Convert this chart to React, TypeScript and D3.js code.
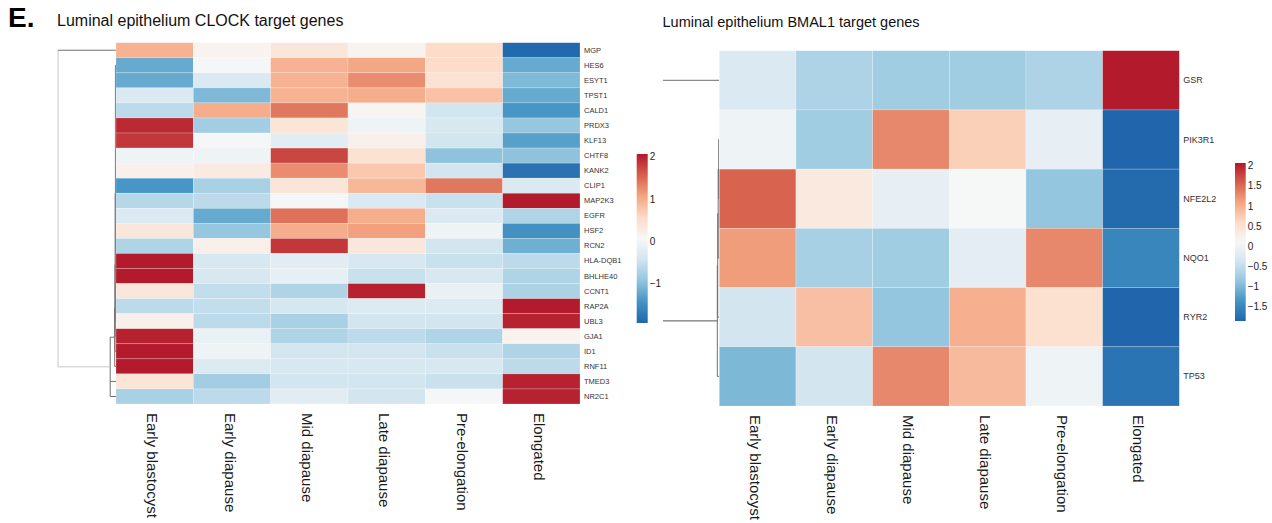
import React from "react";
import * as d3 from "d3";

// Developmental stages (columns, shared by both heatmaps)
const stages = [
  "Early blastocyst",
  "Early diapause",
  "Mid diapause",
  "Late diapause",
  "Pre-elongation",
  "Elongated",
];

// CLOCK target genes, row order as clustered
const clockGenes = [
  "MGP", "HES6", "ESYT1", "TPST1", "CALD1", "PRDX3", "KLF13", "CHTF8",
  "KANK2", "CLIP1", "MAP2K3", "EGFR", "HSF2", "RCN2", "HLA-DQB1", "BHLHE40",
  "CCNT1", "RAP2A", "UBL3", "GJA1", "ID1", "RNF11", "TMED3", "NR2C1",
];

// Row-scaled expression (z-scores) for CLOCK targets, one row per gene
const clockZ = [
  [0.95, 0.15, 0.35, 0.15, 0.55, -1.9],
  [-1.2, 0.05, 0.95, 1.05, 0.55, -1.2],
  [-1.2, -0.3, 0.95, 1.25, 0.45, -1.05],
  [-0.3, -1.05, 0.95, 1.0, 0.8, -1.2],
  [-0.6, 1.0, 1.4, 0.12, -0.4, -1.4],
  [1.95, -0.8, 0.4, -0.05, -0.35, -0.9],
  [1.85, 0.05, -0.2, 0.2, -0.4, -1.3],
  [-0.05, -0.05, 1.75, 0.45, -0.95, -0.95],
  [0.2, 0.3, 1.25, 0.75, -0.4, -1.8],
  [-1.4, -0.75, 0.4, 0.9, 1.4, -0.3],
  [-0.65, -0.6, 0.05, -0.3, -0.5, 2.05],
  [-0.3, -1.2, 1.45, 1.0, -0.3, -0.7],
  [0.35, -0.9, 1.0, 1.1, -0.05, -1.45],
  [-0.7, 0.2, 1.85, 0.35, -0.4, -1.15],
  [2.05, -0.35, -0.2, -0.35, -0.5, -0.6],
  [2.05, -0.35, -0.15, -0.5, -0.35, -0.7],
  [0.35, -0.55, -0.7, 2.0, -0.1, -0.72],
  [-0.6, -0.55, -0.38, -0.28, -0.28, 2.05],
  [0.2, -0.6, -0.75, -0.4, -0.4, 2.0],
  [2.0, -0.1, -0.7, -0.6, -0.7, 0.15],
  [2.05, -0.05, -0.4, -0.4, -0.5, -0.7],
  [2.05, -0.28, -0.35, -0.35, -0.35, -0.6],
  [0.4, -0.8, -0.4, -0.4, -0.5, 2.0],
  [-0.75, -0.6, -0.2, -0.4, 0.05, 2.0],
];

// BMAL1 target genes
const bmalGenes = ["GSR", "PIK3R1", "NFE2L2", "NQO1", "RYR2", "TP53"];

const bmalZ = [
  [-0.25, -0.65, -0.75, -0.75, -0.65, 2.05],
  [0.0, -0.75, 1.3, 0.7, -0.1, -1.85],
  [1.55, 0.35, -0.1, 0.1, -0.85, -1.8],
  [1.15, -0.7, -0.75, -0.15, 1.3, -1.5],
  [-0.35, 0.85, -0.85, 1.0, 0.5, -1.85],
  [-1.0, -0.35, 1.3, 0.9, 0.0, -1.7],
];

// Colour-key ranges and tick labels
const clockRange = [-1.93, 2.07];
const clockTicks = [2, 1, 0, -1];
const bmalRange = [-1.85, 2.07];
const bmalTicks = [2, 1.5, 1, 0.5, 0, -0.5, -1, -1.5];

// Row dendrograms: leaves are row indices, nodes carry a merge height (0..1)
type TreeNode = number | { h: number; c: TreeNode[] };

const clockTree: TreeNode = {
  h: 1,
  c: [
    0,
    {
      h: 0.1,
      c: [
        {
          h: 0.022,
          c: [
            {
              h: 0.018,
              c: [
                {
                  h: 0.014,
                  c: [
                    { h: 0.01, c: [1, 2, 3, 4, 5, 6, 7, 8, 9, 10, 11, 12, 13, 14, 15, 16, 17, 18] },
                    19,
                  ],
                },
                20,
              ],
            },
            21,
          ],
        },
        22,
        23,
      ],
    },
  ],
};

const bmalTree: TreeNode = {
  h: 1,
  c: [
    0,
    {
      h: 0.035,
      c: [
        { h: 0.028, c: [{ h: 0.02, c: [{ h: 0.01, c: [1, 2] }, 3] }, 4] },
        5,
      ],
    },
  ],
};

const palette = [
  "#2166ac", "#4393c3", "#92c5de", "#d1e5f0", "#f7f7f7",
  "#fddbc7", "#f4a582", "#d6604d", "#b2182b",
];

const FONT = "'Liberation Sans', Arial, Helvetica, sans-serif";

function colorScale(range: number[]) {
  const [lo, hi] = range;
  return d3
    .scaleLinear<string>()
    .domain(d3.range(palette.length).map((i) => lo + (i * (hi - lo)) / (palette.length - 1)))
    .range(palette)
    .interpolate(d3.interpolateRgb)
    .clamp(true);
}

// segment: x1, y1, x2, y2, depth of the node that owns it, arm index (-1 = vertical)
type Seg = [number, number, number, number, number, number];

function layoutTree(
  node: TreeNode,
  yOf: (i: number) => number,
  xOf: (h: number) => number,
  segs: Seg[],
  depth = 0
): { x: number; y: number } {
  if (typeof node === "number") return { x: xOf(0), y: yOf(node) };
  const kids = node.c.map((k) => layoutTree(k, yOf, xOf, segs, depth + 1));
  const x = xOf(node.h);
  const y = (kids[0].y + kids[kids.length - 1].y) / 2;
  segs.push([x, kids[0].y, x, kids[kids.length - 1].y, depth, -1]);
  kids.forEach((k, i) => segs.push([x, k.y, k.x, k.y, depth, i]));
  return { x, y };
}

interface PanelProps {
  id: string;
  title: string;
  titleX: number;
  titleY: number;
  titleSize: number;
  genes: string[];
  values: number[][];
  range: number[];
  ticks: number[];
  tree: TreeNode;
  heat: { x0: number; x1: number; y0: number; y1: number };
  treeRootX: number;
  clipX: number;
  geneSize: number;
  rootStroke: string;
  legend: { x: number; w: number; y0: number; y1: number };
}

function Panel(p: PanelProps) {
  const color = colorScale(p.range);
  const xBand = d3
    .scaleBand<number>()
    .domain(d3.range(stages.length))
    .range([p.heat.x0, p.heat.x1]);
  const yBand = d3
    .scaleBand<number>()
    .domain(d3.range(p.genes.length))
    .range([p.heat.y0, p.heat.y1]);
  const rowY = (i: number) => (yBand(i) as number) + yBand.bandwidth() / 2;
  const hScale = d3.scaleLinear().domain([0, 1]).range([p.heat.x0, p.treeRootX]);

  const segs: Seg[] = [];
  layoutTree(p.tree, rowY, (h) => hScale(h), segs);

  const legY = d3
    .scaleLinear()
    .domain([p.range[1], p.range[0]])
    .range([p.legend.y0, p.legend.y1]);
  const gradId = `grad-${p.id}`;
  const clipId = `clip-${p.id}`;

  return (
    <g>
      <text x={p.titleX} y={p.titleY} fontSize={p.titleSize} fill="#111" fontFamily={FONT}>
        {p.title}
      </text>

      <defs>
        <clipPath id={clipId}>
          <rect x={p.clipX} y={0} width={p.heat.x0 - p.clipX} height={523} />
        </clipPath>
        <linearGradient id={gradId} x1="0" y1="1" x2="0" y2="0">
          {palette.map((c, i) => (
            <stop key={i} offset={i / (palette.length - 1)} stopColor={c} />
          ))}
        </linearGradient>
      </defs>

      {/* row dendrogram */}
      <g clipPath={`url(#${clipId})`} strokeWidth={1} fill="none">
        {segs.map((s, i) => (
          <line
            key={i}
            x1={s[0]}
            y1={s[1]}
            x2={s[2]}
            y2={s[3]}
            stroke={s[4] === 0 && s[5] !== 0 ? p.rootStroke : "#6f6f6f"}
          />
        ))}
      </g>

      {/* heatmap cells */}
      <g>
        {p.values.map((row, r) =>
          row.map((v, c) => (
            <rect
              key={`${r}-${c}`}
              x={xBand(c)}
              y={yBand(r)}
              width={xBand.bandwidth()}
              height={yBand.bandwidth()}
              fill={color(v)}
              stroke="rgba(255,255,255,0.35)"
              strokeWidth={0.6}
            />
          ))
        )}
      </g>

      {/* gene labels */}
      <g fontFamily={FONT} fontSize={p.geneSize} fill="#333">
        {p.genes.map((g, i) => (
          <text key={g} x={p.heat.x1 + 4} y={rowY(i)} dominantBaseline="central">
            {g}
          </text>
        ))}
      </g>

      {/* stage labels */}
      <g fontFamily={FONT} fontSize={15} fill="#1a1a1a">
        {stages.map((s, i) => {
          const cx = (xBand(i) as number) + xBand.bandwidth() / 2 - 2;
          const y = p.heat.y1 + 9;
          return (
            <text
              key={s}
              transform={`translate(${cx},${y}) rotate(90)`}
              dominantBaseline="central"
            >
              {s}
            </text>
          );
        })}
      </g>

      {/* colour key */}
      <rect
        x={p.legend.x}
        y={p.legend.y0}
        width={p.legend.w}
        height={p.legend.y1 - p.legend.y0}
        fill={`url(#${gradId})`}
      />
      <g fontFamily={FONT} fontSize={10} fill="#222">
        {p.ticks.map((t) => (
          <text
            key={t}
            x={p.legend.x + p.legend.w + 2}
            y={legY(t)}
            dominantBaseline="central"
          >
            {t < 0 ? `\u2212${Math.abs(t)}` : `${t}`}
          </text>
        ))}
      </g>
    </g>
  );
}

export default function App() {
  return (
    <svg
      width={1272}
      height={523}
      viewBox="0 0 1272 523"
      style={{ position: "absolute", left: 0, top: 0, background: "#fff" }}
    >
      <rect x={0} y={0} width={1272} height={523} fill="#fff" />
      <text x={8} y={27} fontSize={28} fontWeight="bold" fontFamily={FONT} fill="#000">
        E.
      </text>
      <Panel
        id="clock"
        title="Luminal epithelium CLOCK target genes"
        titleX={57}
        titleY={26}
        titleSize={16}
        genes={clockGenes}
        values={clockZ}
        range={clockRange}
        ticks={clockTicks}
        tree={clockTree}
        heat={{ x0: 116, x1: 580, y0: 42.7, y1: 404 }}
        treeRootX={58}
        clipX={57}
        geneSize={7.5}
        rootStroke="#c8c8c8"
        legend={{ x: 636.7, w: 11, y0: 154, y1: 323 }}
      />
      <Panel
        id="bmal"
        title="Luminal epithelium BMAL1 target genes"
        titleX={662.5}
        titleY={27}
        titleSize={14.5}
        genes={bmalGenes}
        values={bmalZ}
        range={bmalRange}
        ticks={bmalTicks}
        tree={bmalTree}
        heat={{ x0: 719.3, x1: 1179.3, y0: 50.7, y1: 406 }}
        treeRootX={662.3}
        clipX={663}
        geneSize={9}
        rootStroke="#555555"
        legend={{ x: 1235, w: 10.7, y0: 163, y1: 321 }}
      />
    </svg>
  );
}
